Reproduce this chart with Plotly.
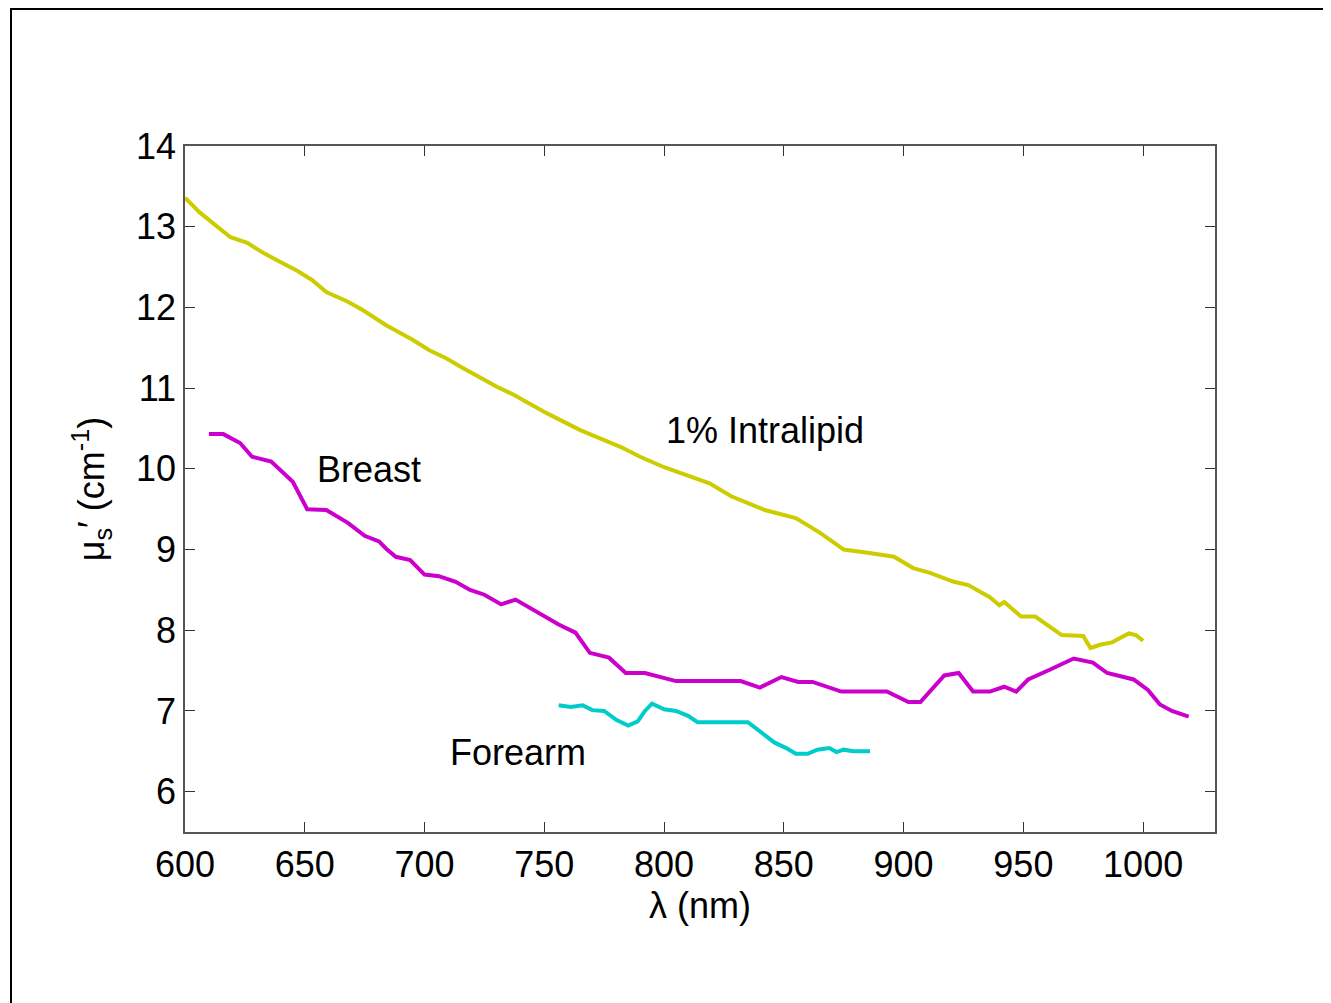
import plotly.graph_objects as go

# Data
intralipid_nm = [600, 606, 611, 619, 626, 633, 640, 647, 653, 659, 668, 674, 684, 695, 702, 709,
                 716, 723, 730, 737, 751, 765, 773, 782, 790, 800, 819, 828, 842, 850, 855, 865,
                 875, 885, 896, 904, 911, 921, 927, 936, 940, 942, 949, 955, 961, 966, 975, 978,
                 982, 987, 994, 997, 1000]
intralipid_mu = [13.36, 13.18, 13.06, 12.87, 12.80, 12.67, 12.56, 12.45, 12.34, 12.19, 12.07, 11.97,
                 11.78, 11.60, 11.47, 11.37, 11.25, 11.13, 11.02, 10.92, 10.69, 10.48, 10.38, 10.27,
                 10.15, 10.02, 9.82, 9.66, 9.49, 9.43, 9.39, 9.21, 9.00, 8.96, 8.91, 8.77, 8.71,
                 8.60, 8.56, 8.41, 8.31, 8.35, 8.17, 8.17, 8.04, 7.94, 7.93, 7.78, 7.82, 7.85,
                 7.96, 7.94, 7.87]

breast_nm = [610, 616, 623, 628, 636, 645, 651, 659, 668, 675, 681, 684, 688, 694, 700, 706, 713,
             719, 725, 732, 738, 744, 750, 756, 763, 769, 777, 784, 792, 805, 832, 840, 849, 856,
             862, 874, 893, 902, 907, 917, 923, 929, 936, 942, 947, 952, 961, 971, 979, 985, 996,
             1002, 1007, 1012, 1019]
breast_mu = [10.43, 10.43, 10.32, 10.15, 10.09, 9.84, 9.50, 9.49, 9.33, 9.17, 9.10, 9.01, 8.91,
             8.87, 8.69, 8.67, 8.60, 8.50, 8.44, 8.32, 8.38, 8.28, 8.17, 8.07, 7.97, 7.72, 7.66,
             7.47, 7.47, 7.37, 7.37, 7.29, 7.42, 7.36, 7.36, 7.24, 7.24, 7.11, 7.11, 7.44, 7.47,
             7.24, 7.24, 7.30, 7.24, 7.39, 7.51, 7.65, 7.60, 7.47, 7.39, 7.26, 7.08, 7.00, 6.93]

forearm_nm = [756, 761, 766, 770, 775, 780, 785, 789, 792, 795, 800, 805, 810, 814, 835, 839, 846,
              851, 855, 860, 864, 869, 872, 875, 879, 886]
forearm_mu = [7.07, 7.05, 7.07, 7.01, 7.00, 6.89, 6.82, 6.87, 7.00, 7.09, 7.02, 7.00, 6.94, 6.86,
              6.86, 6.77, 6.61, 6.54, 6.47, 6.47, 6.52, 6.54, 6.49, 6.52, 6.50, 6.50]

x_ticks = [600, 650, 700, 750, 800, 850, 900, 950, 1000]
y_ticks = [6, 7, 8, 9, 10, 11, 12, 13, 14]

labels = [("1% Intralipid", 842, 10.48), ("Breast", 677, 9.99), ("Forearm", 739, 6.48)]

FONT = "Liberation Sans, Arial, sans-serif"
FS = 36

fig = go.Figure()
fig.add_trace(go.Scatter(x=intralipid_nm, y=intralipid_mu, mode="lines",
                         line=dict(color="#CCCC00", width=4), name="1% Intralipid"))
fig.add_trace(go.Scatter(x=breast_nm, y=breast_mu, mode="lines",
                         line=dict(color="#CC00CC", width=4), name="Breast"))
fig.add_trace(go.Scatter(x=forearm_nm, y=forearm_mu, mode="lines",
                         line=dict(color="#00CCCC", width=4), name="Forearm"))

for txt, xv, yv in labels:
    fig.add_annotation(x=xv, y=yv, text=txt, showarrow=False,
                       font=dict(family=FONT, size=FS, color="black"))

# page has an 8px body margin; compensate so the plot lands where it does in the reference
OFF = 8
W, H = 1331 - OFF, 1003 - OFF
L, R, T, B = 185 - OFF, 1215 - OFF, 146 - OFF, 832 - OFF
px = lambda v: (v - L) / (R - L)
py = lambda v: (B - v) / (B - T)
# outer figure frame (left and top edges)
fig.add_shape(type="line", xref="paper", yref="paper", x0=px(3), x1=px(W), y0=py(1), y1=py(1),
              line=dict(color="black", width=2))
fig.add_shape(type="line", xref="paper", yref="paper", x0=px(3), x1=px(3), y0=py(0), y1=py(H),
              line=dict(color="black", width=2))

fig.update_layout(
    width=W, height=H,
    margin=dict(l=L, r=W - R, t=T, b=H - B),
    paper_bgcolor="white", plot_bgcolor="white",
    showlegend=False,
    font=dict(family=FONT, size=FS, color="black"),
)
fig.update_xaxes(range=[600, 1030], tickvals=x_ticks, ticks="inside", ticklen=10,
                 tickcolor="#333", linecolor="#555", linewidth=1.5, mirror="ticks",
                 showgrid=False, zeroline=False,
                 tickfont=dict(family=FONT, size=FS),
                 title=dict(text="λ (nm)", font=dict(family=FONT, size=FS), standoff=6))
fig.update_yaxes(range=[5.5, 14], tickvals=y_ticks, ticks="inside", ticklen=10,
                 tickcolor="#333", linecolor="#555", linewidth=1.5, mirror="ticks",
                 showgrid=False, zeroline=False,
                 tickfont=dict(family=FONT, size=FS),
                 title=dict(text="μ<sub>s</sub>′ (cm<sup>-1</sup>)", font=dict(family=FONT, size=FS),
                            standoff=20))

fig.write_html("out.html")
